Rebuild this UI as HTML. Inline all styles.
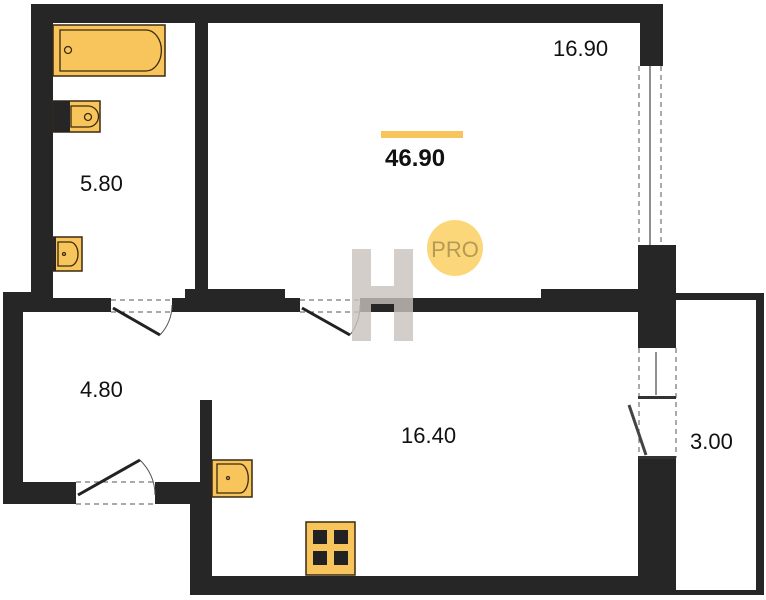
<!DOCTYPE html>
<html><head><style>body{margin:0;background:#fff}svg{display:block}text{font-family:"Liberation Sans",sans-serif;fill:#111}</style></head><body>
<svg width="766" height="600" viewBox="0 0 766 600">
<g fill="#262626">
<rect x="31" y="4" width="632" height="19"/>
<rect x="31" y="4" width="22" height="296"/>
<rect x="195" y="22" width="13" height="270"/>
<rect x="640" y="4" width="23" height="62"/>
<rect x="638" y="245" width="38" height="103"/>
<rect x="638" y="458" width="38" height="137"/>
<rect x="3" y="292" width="50" height="20"/>
<rect x="3" y="292" width="20" height="212"/>
<rect x="3" y="482" width="73" height="22"/>
<rect x="53" y="298" width="58" height="14"/>
<rect x="172" y="298" width="128" height="14"/>
<rect x="185" y="289" width="100" height="23"/>
<rect x="360" y="298" width="280" height="14"/>
<rect x="541" y="289" width="99" height="23"/>
<rect x="155" y="482" width="50" height="22"/>
<rect x="190" y="482" width="22" height="113"/>
<rect x="200" y="400" width="12" height="90"/>
<rect x="190" y="576" width="486" height="19"/>
<rect x="676" y="293" width="88" height="7"/>
<rect x="756" y="293" width="8" height="302"/>
<rect x="676" y="590" width="88" height="5"/>
</g>
<g stroke="#555" stroke-dasharray="5,4" fill="none" stroke-width="1">
<line x1="639" y1="66" x2="639" y2="245"/><line x1="661" y1="66" x2="661" y2="245"/>
<line x1="639" y1="348" x2="639" y2="458"/><line x1="676" y1="348" x2="676" y2="458"/>
<line x1="111" y1="300" x2="172" y2="300"/><line x1="111" y1="312" x2="172" y2="312"/>
<line x1="300" y1="300" x2="360" y2="300"/><line x1="300" y1="312" x2="360" y2="312"/>
<line x1="76" y1="482" x2="155" y2="482"/><line x1="76" y1="504" x2="155" y2="504"/>
</g>
<g stroke="#222" stroke-width="3">
<line x1="113" y1="308" x2="160" y2="335"/>
<line x1="302" y1="308" x2="350" y2="335"/>
<line x1="78" y1="495" x2="140" y2="460"/>
<line x1="650" y1="66" x2="650" y2="245" stroke-width="1"/>
<line x1="656" y1="352" x2="656" y2="395" stroke-width="1"/>
</g>
<g fill="none" stroke="#555" stroke-width="1">
<path d="M160 335 Q172 322 172 305"/><path d="M350 335 Q360 322 360 305"/><path d="M140 460 Q155 475 155 495"/>
<path d="M629 405 L646 455" stroke-width="3" stroke="#444"/>
</g>
<rect x="638" y="396" width="38" height="3" fill="#333"/><rect x="638" y="456" width="38" height="3" fill="#333"/>
<g fill="#f8c55c" stroke="#3a2a10" stroke-width="1.5">
<rect x="53" y="25" width="112" height="51"/>
<rect x="53" y="101" width="47" height="31"/>
<rect x="53" y="237" width="29" height="34"/>
<rect x="212" y="460" width="40" height="37"/>
<rect x="306" y="522" width="49" height="53"/>
</g>
<g fill="none" stroke="#3a2a10" stroke-width="1.3">
<path d="M60 30 H146 A15 20 0 0 1 146 71 H60 Z"/><circle cx="68" cy="50" r="3.5"/>
<path d="M71 106 H88 A10 10 0 0 1 88 127 H71 Z"/><circle cx="88" cy="117" r="3.5"/>
<path d="M58 242 H70 A8 12 0 0 1 70 266 H58 Z"/><circle cx="64" cy="254" r="1.5"/>
<path d="M217 464 H240 A8 14 0 0 1 240 493 H217 Z"/><circle cx="228" cy="478" r="1.5"/>
</g>
<rect x="53" y="101" width="17" height="31" fill="#262626"/>
<rect x="53" y="237" width="3" height="34" fill="#262626"/>
<g fill="#222"><rect x="313" y="530" width="14" height="14"/><rect x="334" y="530" width="14" height="14"/><rect x="313" y="551" width="14" height="14"/><rect x="334" y="551" width="14" height="14"/></g>
<rect x="381" y="131" width="82" height="7" fill="#f8c55c"/>
<circle cx="455" cy="248" r="28" fill="#fbd77a"/>
<text x="455" y="257" text-anchor="middle" font-size="22" style="fill:#b59a55">PRO</text>
<g fill="#c9c3bd" opacity="0.8"><rect x="352" y="249" width="19" height="92"/><rect x="394" y="249" width="19" height="92"/><rect x="352" y="286" width="61" height="18"/></g>
<text x="553" y="56" font-size="22">16.90</text>
<text x="385" y="166" font-size="24" font-weight="bold">46.90</text>
<text x="80" y="191" font-size="22">5.80</text>
<text x="80" y="397" font-size="22">4.80</text>
<text x="401" y="443" font-size="22">16.40</text>
<text x="690" y="449" font-size="22">3.00</text>
</svg>
</body></html>
